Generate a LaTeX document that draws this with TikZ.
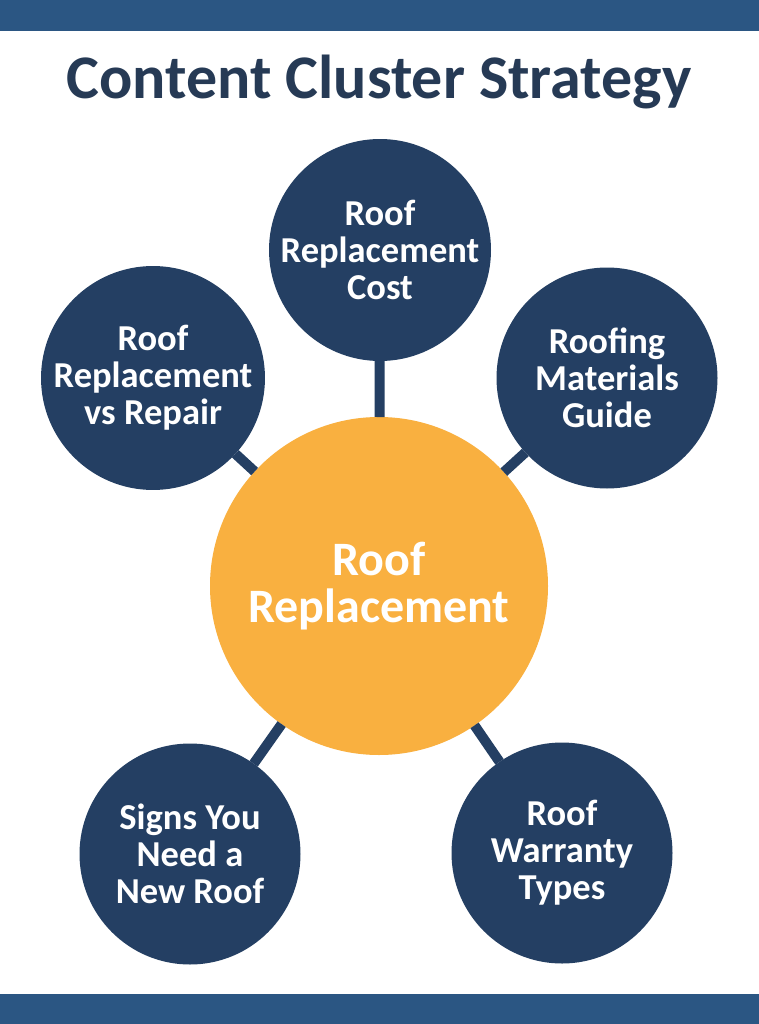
\documentclass[tikz,border=0pt]{standalone}
\usepackage{fontspec}
\setmainfont{Carlito}
\definecolor{barblue}{HTML}{2B5683}
\definecolor{navy}{HTML}{243F63}
\definecolor{titlecol}{HTML}{263A55}
\definecolor{hub}{HTML}{F9B040}
\tikzset{
  spoke/.style={circle,fill=navy,minimum size=221pt,inner sep=0pt,outer sep=0pt,text=white,align=center,font=\bfseries\fontsize{36.5}{37}\selectfont},
  hubnode/.style={circle,fill=hub,minimum size=338pt,inner sep=0pt,outer sep=0pt,text=white,align=center,font=\bfseries\fontsize{48}{47}\selectfont},
  link/.style={draw=navy,line width=10pt},
  bar/.style={fill=barblue},
}
\begin{document}
\begin{tikzpicture}[x=1pt,y=-1pt]
\useasboundingbox (0,0) rectangle (759,1024);
\fill[white] (0,0) rectangle (759,1024);
\fill[bar] (0,0) rectangle (759,31);
\fill[bar] (0,994) rectangle (759,1024);
\node[anchor=base,text=titlecol,font=\bfseries\fontsize{62}{66}\selectfont] (title) at (379,99) {Content Cluster Strategy};
\node[hubnode] (hub) at (379,586) {Roof\\Replacement};
\node[spoke] (top) at (380,250) {Roof\\Replacement\\Cost};
\node[spoke] (lt) at (153,378) {Roof\\Replacement\\vs Repair};
\node[spoke] (rt) at (607,378) {Roofing\\Materials\\Guide};
\node[spoke] (lb) at (190,854) {Signs You\\Need a\\New Roof};
\node[spoke] (rb) at (562,853) {Roof\\Warranty\\Types};
\draw[link] (top) -- (hub);
\draw[link] (lt) -- (hub);
\draw[link] (rt) -- (hub);
\draw[link] (lb) -- (hub);
\draw[link] (rb) -- (hub);
\end{tikzpicture}
\end{document}
